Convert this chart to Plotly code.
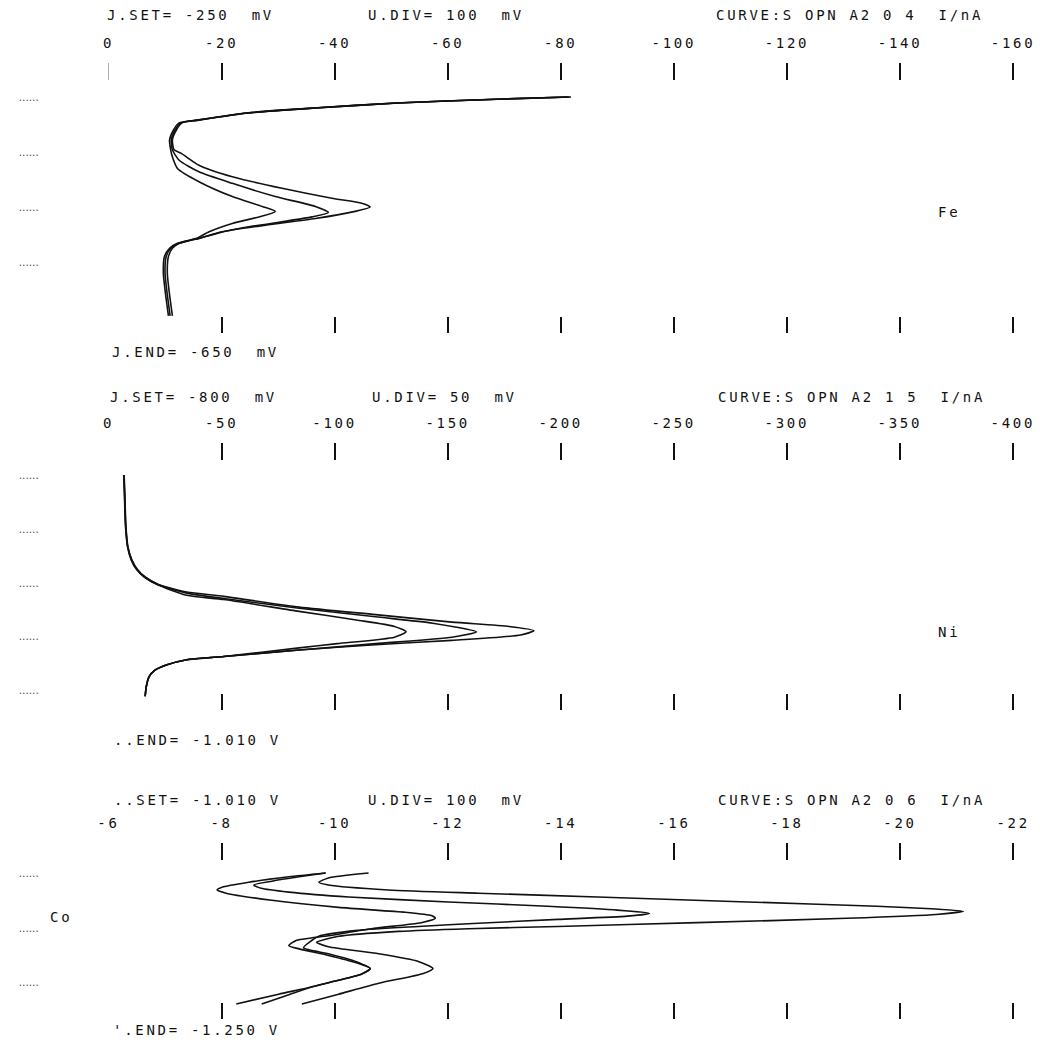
import plotly.graph_objects as go

# ---------------- data (potential E in mV, current I in nA) ----------------
# Panel 1 : Fe
fe_E_outer = [-250, -254, -261, -270, -279, -292, -297, -310, -328, -346, -352, -374, -395, -416, -434,
              -443, -450, -458, -471, -483, -495, -507, -511, -516, -525, -540, -570, -601, -625, -648]
fe_I_outer = [-81.8, -68.9, -51.3, -36.7, -24.8, -16.0, -13.0, -12.0, -11.3, -11.6, -12.8, -16.0, -21.9, -30.7, -39.5,
              -44.8, -46.3, -43.6, -36.6, -27.8, -20.1, -16.0, -14.3, -12.5, -11.3, -10.6, -10.4, -10.7, -11.0, -11.3]
fe_E_mid = [-250, -254, -261, -270, -279, -292, -297, -310, -328, -346, -365, -386, -407, -431, -449,
            -460, -468, -477, -486, -497, -507, -511, -516, -525, -540, -570, -601, -625, -648]
fe_I_mid = [-81.5, -68.6, -51.0, -36.5, -24.6, -15.8, -12.8, -11.8, -11.1, -11.3, -12.5, -16.0, -21.9, -29.5, -36.6,
            -38.9, -36.0, -30.7, -24.8, -19.5, -16.0, -14.3, -12.5, -11.0, -10.2, -10.0, -10.3, -10.6, -10.9]
fe_E_inner = [-250, -254, -261, -270, -279, -292, -297, -310, -328, -346, -362, -380, -404, -431, -449,
              -458, -468, -480, -495, -507, -511, -516, -525, -540, -570, -601, -625, -648]
fe_I_inner = [-81.2, -68.3, -50.7, -36.2, -24.4, -15.6, -12.5, -11.5, -10.8, -11.0, -11.4, -12.2, -16.0, -21.9, -27.2,
              -29.5, -26.6, -21.9, -17.8, -15.6, -14.0, -12.2, -10.8, -9.9, -9.7, -10.0, -10.3, -10.6]

# Panel 2 : Ni
ni_E_outer = [-800, -817, -848, -867, -879, -888, -895, -902, -909, -913, -923, -930, -937, -941, -945,
              -949, -954, -958, -963, -969, -972, -977, -982, -988, -997, -1006]
ni_I_outer = [-6.9, -7.2, -7.7, -8.6, -10.3, -12.8, -16.2, -22.1, -34.6, -51.0, -84.3, -118.1, -151.9, -177.2, -188.2,
              -182.3, -151.9, -118.1, -84.3, -51.0, -34.6, -25.5, -20.4, -17.9, -16.7, -16.2]
ni_E_mid = [-800, -817, -848, -867, -879, -888, -895, -902, -910, -915, -924, -932, -938, -946, -951,
            -957, -963, -969, -972, -977, -982, -988, -997, -1006]
ni_I_mid = [-6.8, -7.1, -7.6, -8.5, -10.2, -12.6, -16.0, -21.8, -34.6, -51.0, -84.3, -118.1, -143.4, -162.8, -151.9,
            -118.1, -84.3, -51.0, -34.6, -25.5, -20.4, -17.9, -16.7, -16.2]
ni_E_inner = [-800, -817, -848, -867, -879, -888, -895, -902, -912, -916, -927, -935, -941, -946, -951,
              -957, -961, -969, -972, -977, -982, -988, -997, -1006]
ni_I_inner = [-6.7, -7.0, -7.5, -8.4, -10.0, -12.4, -15.8, -21.5, -34.6, -51.0, -84.3, -109.6, -126.5, -131.6, -126.5,
              -101.2, -84.3, -51.0, -34.6, -25.5, -20.4, -17.9, -16.7, -16.2]

# Panel 3 : Co
co_E_a = [-1010, -1017, -1027, -1036, -1041, -1047, -1060, -1073, -1082, -1088, -1093, -1101, -1112, -1125, -1134,
          -1143, -1149, -1161, -1174, -1185, -1195, -1211, -1219, -1232, -1250]
co_I_a = [-9.84, -9.19, -8.48, -8.01, -7.92, -8.08, -8.89, -10.07, -11.25, -11.71, -11.78, -11.53, -10.65, -9.89, -9.31,
          -9.19, -9.37, -9.89, -10.37, -10.63, -10.48, -9.89, -9.59, -9.01, -8.26]
co_E_b = [-1010, -1017, -1025, -1032, -1038, -1045, -1054, -1063, -1071, -1078, -1084, -1089, -1095, -1102, -1108,
          -1115, -1126, -1147, -1158, -1172, -1185, -1195, -1211, -1219, -1233, -1250]
co_I_b = [-9.84, -9.37, -8.89, -8.57, -8.70, -9.19, -10.25, -12.01, -13.77, -15.00, -15.57, -15.18, -13.95, -12.54, -11.48,
          -10.42, -9.72, -9.45, -9.89, -10.37, -10.63, -10.48, -9.89, -9.59, -9.19, -8.71]
co_E_c = [-1010, -1019, -1027, -1032, -1041, -1047, -1054, -1063, -1071, -1076, -1080, -1086, -1093, -1101, -1108,
          -1112, -1117, -1126, -1137, -1145, -1158, -1172, -1185, -1194, -1212, -1232, -1250]
co_I_c = [-10.60, -9.89, -9.72, -9.89, -10.95, -12.54, -14.65, -17.30, -19.59, -20.64, -21.12, -20.64, -19.06, -16.41, -13.95,
          -12.36, -11.13, -10.07, -9.68, -9.89, -10.78, -11.48, -11.74, -11.57, -10.78, -10.07, -9.42]

# axis ticks (current, nA) and division marks (potential, mV)
fe_ticks = [0, -20, -40, -60, -80, -100, -120, -140, -160]
fe_tick_labels = ["0", "-20", "-40", "-60", "-80", "-100", "-120", "-140", "-160"]
ni_ticks = [0, -50, -100, -150, -200, -250, -300, -350, -400]
ni_tick_labels = ["0", "-50", "-100", "-150", "-200", "-250", "-300", "-350", "-400"]
co_ticks = [-6, -8, -10, -12, -14, -16, -18, -20, -22]
co_tick_labels = ["-6", "-8", "-10", "-12", "-14", "-16", "-18", "-20", "-22"]
fe_divs = [-250, -350, -450, -550]
ni_divs = [-800, -850, -900, -950, -1000]
co_divs = [-1010, -1110, -1210]

# ---------------- figure ----------------
W, H = 1040, 1044
FONT = "DejaVu Sans Mono"
INK = "#111111"


def sp(s):
    return '<span style="letter-spacing:2.7px">' + s.replace(" ", "\u00a0") + "</span>"


def px(x):
    return x / W


def py(y):
    return 1 - y / H


XDOM = [px(40), px(1035)]

panels = [
    dict(traces=[(fe_I_outer, fe_E_outer), (fe_I_mid, fe_E_mid), (fe_I_inner, fe_E_inner)],
         ticks=fe_ticks, labels=fe_tick_labels, divs=fe_divs,
         xrange=[12.15, -163.0], yrange=[-679.1, -220.9], top=81, bottom=333),
    dict(traces=[(ni_I_outer, ni_E_outer), (ni_I_mid, ni_E_mid), (ni_I_inner, ni_E_inner)],
         ticks=ni_ticks, labels=ni_tick_labels, divs=ni_divs,
         xrange=[30.4, -407.6], yrange=[-1018.8, -787.0], top=461, bottom=710),
    dict(traces=[(co_I_a, co_E_a), (co_I_b, co_E_b), (co_I_c, co_E_c)],
         ticks=co_ticks, labels=co_tick_labels, divs=co_divs,
         xrange=[-4.785, -22.30], yrange=[-1277.5, -988.0], top=861, bottom=1019),
]

fig = go.Figure()
layout = dict(width=W, height=H, margin=dict(l=0, r=0, t=0, b=0),
              paper_bgcolor="white", plot_bgcolor="white", showlegend=False)


def holder(xname, yname):
    # empty trace so that an overlay tick axis gets drawn
    fig.add_trace(go.Scatter(x=[], y=[], mode="lines", xaxis=xname, yaxis=yname,
                             hoverinfo="skip", showlegend=False))


for i, p in enumerate(panels):
    n = i + 1
    xname = "x" if n == 1 else f"x{n}"
    yname = "y" if n == 1 else f"y{n}"
    xkey = "xaxis" if n == 1 else f"xaxis{n}"
    ykey = "yaxis" if n == 1 else f"yaxis{n}"
    for (I, E) in p["traces"]:
        fig.add_trace(go.Scatter(x=I, y=E, mode="lines", xaxis=xname, yaxis=yname,
                                 line=dict(color=INK, width=1.6, shape="spline", smoothing=0.6),
                                 hoverinfo="skip"))
    common = dict(range=p["xrange"], autorange=False, showgrid=False, zeroline=False,
                  showline=False, fixedrange=True, tickmode="array")
    layout[xkey] = dict(domain=XDOM, anchor=yname, side="top", tickvals=p["ticks"],
                        ticktext=[sp(t) for t in p["labels"]], ticks="",
                        tickfont=dict(family=FONT, size=14, color=INK), ticklabelstandoff=29, **common)
    layout[f"xaxis{n + 3}"] = dict(overlaying=xname, anchor=yname, side="top", tickvals=p["ticks"][1:],
                                   ticks="outside", ticklen=17, tickwidth=2, tickcolor=INK,
                                   showticklabels=False, **common)
    layout[f"xaxis{n + 6}"] = dict(overlaying=xname, anchor=yname, side="bottom", tickvals=p["ticks"][1:],
                                   ticks="inside", ticklen=16, tickwidth=2, tickcolor=INK,
                                   showticklabels=False, **common)
    holder(f"x{n + 3}", yname)
    holder(f"x{n + 6}", yname)
    layout[ykey] = dict(domain=[py(p["bottom"]), py(p["top"])], anchor=xname, range=p["yrange"],
                        autorange=False, showgrid=False, zeroline=False, showline=False, fixedrange=True,
                        tickmode="array", tickvals=p["divs"], ticktext=["......"] * len(p["divs"]),
                        ticks="", tickfont=dict(family="Liberation Sans", size=12, color="#555555"))

# faint zero tick of the Fe panel
layout["xaxis10"] = dict(overlaying="x", anchor="y", side="top", tickvals=fe_ticks[:1], range=panels[0]["xrange"],
                         autorange=False, ticks="outside", ticklen=17, tickwidth=1, tickcolor="#b0b0b0",
                         showticklabels=False, showgrid=False, zeroline=False, showline=False, fixedrange=True,
                         tickmode="array")
holder("x10", "y")

texts = [
    ("J.SET= -250  mV", 106, 15), ("U.DIV= 100  mV", 368, 15), ("CURVE:S OPN A2 0 4  I/nA", 717, 15),
    ("J.END= -650  mV", 111, 352), ("Fe", 941, 212),
    ("J.SET= -800  mV", 109, 397), ("U.DIV= 50  mV", 372, 397), ("CURVE:S OPN A2 1 5  I/nA", 719, 397),
    ("..END= -1.010 V", 113, 740), ("Ni", 941, 632),
    ("..SET= -1.010 V", 113, 800), ("U.DIV= 100  mV", 368, 800), ("CURVE:S OPN A2 0 6  I/nA", 719, 800),
    ("'.END= -1.250 V", 112, 1030), ("Co", 48, 917),
]
layout["annotations"] = [
    dict(text=sp(t), x=px(x), y=py(y), xref="paper", yref="paper", xanchor="left", yanchor="middle",
         showarrow=False, font=dict(family=FONT, size=14, color=INK))
    for (t, x, y) in texts
]

fig.update_layout(**layout)
fig.write_html("out.html", config={"displayModeBar": False, "staticPlot": True},
               post_script="document.body.style.margin='0';document.body.style.overflow='hidden';")
